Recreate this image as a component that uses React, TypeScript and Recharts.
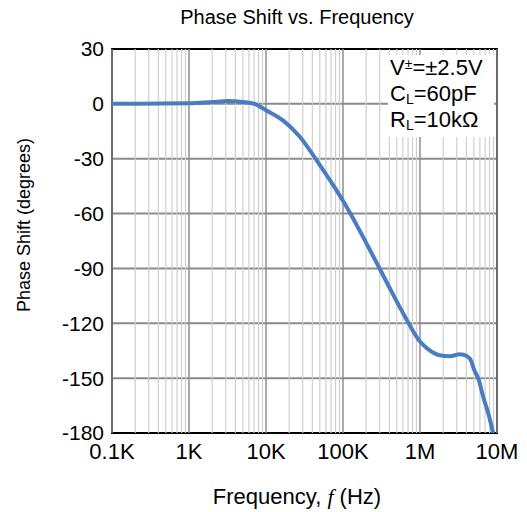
import React from "react";
import {
  LineChart,
  Line,
  XAxis,
  YAxis,
  CartesianGrid,
  ReferenceLine,
  ReferenceArea,
} from "recharts";

const frequencies = [
  100, 1000, 2000, 3160, 5000, 7080, 10000, 16600, 27500, 45700, 70800,
  100000, 123000, 200000, 282000, 407000, 631000, 1000000, 1260000, 1800000,
  2450000, 3300000, 4100000, 4600000, 5000000, 5800000, 6600000, 7800000,
  8900000,
];
const phase = [
  0, 0.3, 1, 1.5, 1, 0, -3.5, -9, -18, -31, -43, -53, -59.5, -76, -88, -101,
  -116, -130, -134, -137.5, -138, -137, -138, -140.5, -145, -151, -160, -170,
  -180,
];

const decadeTicks = [100, 1000, 10000, 100000, 1000000, 10000000];
const decadeLabels = ["0.1K", "1K", "10K", "100K", "1M", "10M"];
const minorMultipliers = [2, 3, 4, 5, 6, 7, 8, 9];
const minorDecades = [100, 1000, 10000, 100000, 1000000];
const yTicks = [30, 0, -30, -60, -90, -120, -150, -180];

const data = frequencies.map((f, i) => ({ f, p: phase[i] }));
const minorLines: number[] = [];
minorDecades.forEach((d) => minorMultipliers.forEach((m) => minorLines.push(d * m)));

const FONT = "'Liberation Sans', Arial, Helvetica, sans-serif";

export default function App() {
  return (
    <div
      style={{
        position: "absolute",
        left: 0,
        top: 0,
        width: 527,
        height: 512,
        background: "#fff",
        fontFamily: FONT,
      }}
    >
      <LineChart
        width={527}
        height={512}
        data={data}
        margin={{ top: 49, right: 30, bottom: 0, left: 0 }}
      >
        <CartesianGrid vertical={false} stroke="#8a8a8a" strokeWidth={2} />
        {minorLines.map((v) => (
          <ReferenceLine key={"m" + v} x={v} stroke="#cfcfcf" strokeWidth={1.2} />
        ))}
        {decadeTicks.map((v) => (
          <ReferenceLine key={"d" + v} x={v} stroke="#8f8f8f" strokeWidth={1.5} />
        ))}
        <XAxis
          dataKey="f"
          type="number"
          scale="log"
          domain={[100, 10000000]}
          ticks={decadeTicks}
          allowDataOverflow
          tickFormatter={(v: number) => decadeLabels[decadeTicks.indexOf(v)] ?? ""}
          tickLine={false}
          axisLine={false}
          tickMargin={4}
          height={79}
          tick={{ fill: "#000", fontSize: 22, fontFamily: FONT }}
        />
        <YAxis
          type="number"
          domain={[-180, 30]}
          ticks={yTicks}
          allowDataOverflow
          tickLine={false}
          axisLine={false}
          width={112}
          interval={0}
          tick={{ fill: "#000", fontSize: 21, fontFamily: FONT }}
        />
        <Line
          dataKey="p"
          type="monotone"
          stroke="#4a7dc0"
          strokeWidth={4}
          dot={false}
          isAnimationActive={false}
        />
        <ReferenceArea
          x1={100}
          x2={10000000}
          y1={-180}
          y2={30}
          fill="none"
          stroke="#000"
          strokeWidth={2}
          ifOverflow="visible"
        />
      </LineChart>
      <div
        style={{
          position: "absolute",
          left: 0,
          top: 6,
          width: 594,
          textAlign: "center",
          fontSize: 20,
          color: "#000",
        }}
      >
        Phase Shift vs. Frequency
      </div>
      <div
        style={{
          position: "absolute",
          left: 0,
          top: 484,
          width: 594,
          textAlign: "center",
          fontSize: 22,
          color: "#000",
        }}
      >
        Frequency, <span style={{ fontStyle: "italic", fontFamily: "'Liberation Serif', serif" }}>f</span> (Hz)
      </div>
      <div
        style={{
          position: "absolute",
          left: 24,
          top: 225,
          transform: "translate(-50%, -50%) rotate(-90deg)",
          whiteSpace: "nowrap",
          fontSize: 18,
          color: "#000",
        }}
      >
        Phase Shift (degrees)
      </div>
      <div
        style={{
          position: "absolute",
          left: 388,
          top: 55,
          width: 106,
          height: 82,
          background: "#fff",
          fontSize: 22,
          lineHeight: "26px",
          color: "#000",
          paddingLeft: 2,
          boxSizing: "border-box",
        }}
      >
        <div>
          V<sup style={{ fontSize: 14, verticalAlign: "6px", lineHeight: 0 }}>±</sup>=±2.5V
        </div>
        <div>
          C<sub style={{ fontSize: 14, verticalAlign: "-3px", lineHeight: 0 }}>L</sub>=60pF
        </div>
        <div>
          R<sub style={{ fontSize: 14, verticalAlign: "-3px", lineHeight: 0 }}>L</sub>=10kΩ
        </div>
      </div>
    </div>
  );
}
